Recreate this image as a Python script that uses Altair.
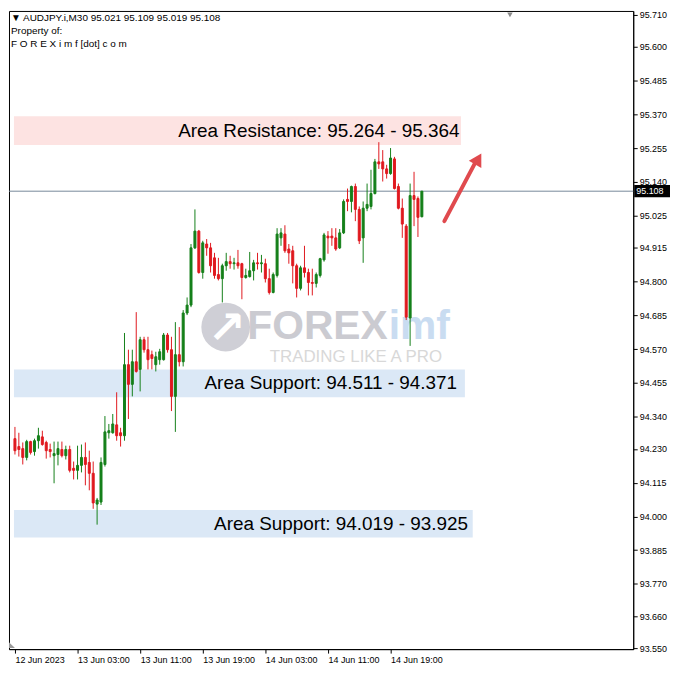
import altair as alt
import pandas as pd

# ---------------- data ----------------
bar_index = list(range(1, 106))  # 30-minute bars starting 12 Jun 2023 19:00
opens = [94.265, 94.238, 94.231, 94.201, 94.255, 94.221, 94.258, 94.271, 94.252, 94.228,
         94.207, 94.211, 94.228, 94.207, 94.228, 94.164, 94.157, 94.174, 94.201, 94.184,
         94.147, 94.042, 94.049, 94.177, 94.285, 94.285, 94.312, 94.285, 94.275, 94.517,
         94.450, 94.527, 94.501, 94.602, 94.568, 94.551, 94.517, 94.534, 94.534, 94.618,
         94.568, 94.409, 94.551, 94.527, 94.693, 94.720, 94.915, 94.972, 94.831, 94.928,
         94.915, 94.881, 94.824, 94.810, 94.854, 94.868, 94.861, 94.864, 94.861, 94.814,
         94.817, 94.837, 94.864, 94.861, 94.861, 94.810, 94.763, 94.821, 94.949, 94.962,
         94.911, 94.905, 94.854, 94.777, 94.847, 94.831, 94.797, 94.794, 94.821, 94.874,
         94.955, 94.955, 94.949, 94.915, 94.966, 95.080, 95.073, 95.124, 95.046, 94.949,
         95.050, 95.056, 95.100, 95.208, 95.208, 95.184, 95.168, 95.218, 95.124, 95.050,
         94.989, 94.676, 95.093, 95.083, 95.021]
highs = [94.305, 94.285, 94.252, 94.261, 94.258, 94.265, 94.302, 94.292, 94.258, 94.248,
         94.255, 94.255, 94.255, 94.241, 94.241, 94.187, 94.241, 94.245, 94.252, 94.224,
         94.187, 94.063, 94.201, 94.342, 94.315, 94.349, 94.423, 94.302, 94.625, 94.568,
         94.568, 94.696, 94.612, 94.612, 94.612, 94.565, 94.561, 94.571, 94.625, 94.625,
         94.612, 94.662, 94.645, 94.703, 94.746, 94.928, 95.046, 94.976, 94.939, 94.945,
         94.932, 94.898, 94.881, 94.861, 94.898, 94.888, 94.881, 94.908, 94.864, 94.844,
         94.901, 94.874, 94.898, 94.891, 94.878, 94.844, 94.831, 94.982, 94.982, 94.992,
         94.928, 94.922, 94.861, 94.854, 94.922, 94.844, 94.844, 94.831, 94.881, 94.966,
         94.972, 94.982, 94.982, 94.979, 95.080, 95.117, 95.127, 95.134, 95.056, 95.073,
         95.134, 95.181, 95.218, 95.275, 95.248, 95.198, 95.255, 95.225, 95.134, 95.083,
         94.996, 95.134, 95.174, 95.090, 95.109]
lows = [94.211, 94.204, 94.177, 94.191, 94.211, 94.207, 94.231, 94.241, 94.197, 94.201,
        94.113, 94.174, 94.201, 94.194, 94.150, 94.126, 94.126, 94.150, 94.106, 94.089,
        94.026, 93.972, 94.039, 94.170, 94.265, 94.282, 94.258, 94.238, 94.258, 94.332,
        94.409, 94.490, 94.426, 94.558, 94.501, 94.501, 94.494, 94.517, 94.531, 94.558,
        94.359, 94.288, 94.511, 94.511, 94.686, 94.713, 94.911, 94.827, 94.810, 94.888,
        94.831, 94.810, 94.804, 94.729, 94.837, 94.844, 94.841, 94.844, 94.740, 94.810,
        94.814, 94.804, 94.841, 94.831, 94.797, 94.756, 94.760, 94.814, 94.922, 94.898,
        94.861, 94.794, 94.746, 94.770, 94.814, 94.753, 94.753, 94.780, 94.814, 94.868,
        94.895, 94.922, 94.905, 94.911, 94.962, 95.040, 95.036, 95.006, 94.928, 94.864,
        95.040, 95.046, 95.097, 95.184, 95.141, 95.151, 95.164, 95.114, 95.046, 94.949,
        94.669, 94.581, 94.989, 94.952, 95.019]
closes = [94.224, 94.228, 94.201, 94.255, 94.218, 94.258, 94.275, 94.245, 94.224, 94.221,
          94.214, 94.231, 94.207, 94.228, 94.157, 94.157, 94.174, 94.201, 94.177, 94.147,
          94.046, 94.056, 94.184, 94.288, 94.292, 94.315, 94.275, 94.275, 94.517, 94.450,
          94.527, 94.494, 94.602, 94.568, 94.534, 94.538, 94.544, 94.561, 94.618, 94.568,
          94.409, 94.551, 94.527, 94.693, 94.720, 94.915, 94.972, 94.831, 94.932, 94.915,
          94.854, 94.821, 94.810, 94.854, 94.868, 94.861, 94.864, 94.854, 94.814, 94.821,
          94.837, 94.864, 94.861, 94.864, 94.810, 94.763, 94.824, 94.962, 94.966, 94.905,
          94.898, 94.854, 94.777, 94.847, 94.831, 94.797, 94.794, 94.824, 94.878, 94.959,
          94.949, 94.949, 94.911, 94.966, 95.073, 95.073, 95.124, 95.046, 94.939, 95.050,
          95.063, 95.100, 95.208, 95.201, 95.184, 95.168, 95.221, 95.117, 95.050, 94.996,
          94.679, 95.093, 95.080, 95.019, 95.108]

y_ticks = [95.710, 95.600, 95.485, 95.370, 95.255, 95.140, 95.025, 94.915, 94.800, 94.685,
           94.570, 94.455, 94.340, 94.230, 94.115, 94.000, 93.885, 93.770, 93.660, 93.550]
x_tick_bars = [1, 17, 33, 49, 65, 81, 97]
x_tick_labels = ["12 Jun 2023", "13 Jun 03:00", "13 Jun 11:00", "13 Jun 19:00",
                 "14 Jun 03:00", "14 Jun 11:00", "14 Jun 19:00"]

zone_kind = ["resistance", "support", "support"]
zone_low = [95.265, 94.406, 93.928]
zone_high = [95.363, 94.501, 94.022]
zone_start = [0.75, 0.75, 0.75]
zone_end = [115.0, 116.0, 118.0]
zone_text = ["Area Resistance: 95.264 - 95.364",
             "Area Support: 94.511 - 94.371",
             "Area Support: 94.019 - 93.925"]
zone_text_end = [114.6, 114.0, 116.8]

current_price = 95.108
symbol_header = "\u25BC AUDJPY.i,M30  95.021 95.109 95.019 95.108"
header_lines = ["Property of:", "F O R E X i m f [dot] c o m"]

arrow_bars = [110.75, 118.75]
arrow_prices = [95.006, 95.208]
arrow_head_bar = 119.4
arrow_head_price = 95.218

# ---------------- styling ----------------
GREEN = "#15801a"
RED = "#e0191f"
ZONE_FILL = {"resistance": "#fde3e2", "support": "#dbe8f6"}
FONT = "Liberation Sans"
W, H = 628, 642
XDOM = [0.75, 0.75 + W / 4.0]
YDOM = [93.548, 95.722]

label_expr = ("[" + ",".join("'" + s + "'" for s in x_tick_labels) + "][indexof(["
              + ",".join(str(v) for v in x_tick_bars) + "], datum.value)]")

x_axis = alt.Axis(values=x_tick_bars, labelExpr=label_expr, title=None, orient="bottom",
                  labelAlign="left", labelPadding=2, tickSize=4, grid=False,
                  labelFlush=False, labelOverlap=False, labelBound=False)
y_axis = alt.Axis(values=y_ticks, format=".3f", title=None, orient="right",
                  labelAlign="left", labelPadding=2, tickSize=4, grid=False,
                  labelOverlap=False, labelFlush=False)
x_scale = alt.Scale(domain=XDOM, nice=False, zero=False)
y_scale = alt.Scale(domain=YDOM, nice=False, zero=False)


def X(f):
    return alt.X(f, type="quantitative", scale=x_scale, axis=x_axis)


def Y(f):
    return alt.Y(f, type="quantitative", scale=y_scale, axis=y_axis)


candles = pd.DataFrame({"bar": bar_index, "open": opens, "high": highs,
                        "low": lows, "close": closes})
candles["col"] = [GREEN if c >= o else RED for o, c in zip(opens, closes)]

zones = pd.DataFrame({"x0": zone_start, "x1": zone_end, "lo": zone_low, "hi": zone_high,
                      "kind": zone_kind, "label": zone_text, "tx": zone_text_end})
zones["fillc"] = [ZONE_FILL[k] for k in zone_kind]
zones["ty"] = [(a + b) / 2 for a, b in zip(zone_low, zone_high)]

price_df = pd.DataFrame({"p": [current_price], "lab": [f"{current_price:.3f}"]})
arrow_df = pd.DataFrame({"x0": [arrow_bars[0]], "x1": [arrow_bars[1]],
                         "y0": [arrow_prices[0]], "y1": [arrow_prices[1]],
                         "hx": [arrow_head_bar], "hy": [arrow_head_price]})


def one(text):
    return pd.DataFrame({"t": [text]})


zone_rects = alt.Chart(zones).mark_rect().encode(
    x=X("x0"), x2=alt.X2("x1"), y=Y("lo"), y2=alt.Y2("hi"),
    fill=alt.Fill("fillc:N", scale=None))

# watermark
WM_Y = 318
wm_circle = alt.Chart(one("o")).mark_point(shape="circle", filled=True, size=2400,
                                           color="#cfcfd6", opacity=1).encode(
    x=alt.value(218), y=alt.value(WM_Y))
wm_arrow = alt.Chart(one("\u2197")).mark_text(font="DejaVu Sans", fontSize=46, fontWeight="bold",
                                             color="white", align="center", baseline="middle").encode(
    x=alt.value(219), y=alt.value(WM_Y + 2), text="t:N")
wm_forex = alt.Chart(one("FOREX")).mark_text(font=FONT, fontSize=41, fontWeight="bold",
                                            color="#cbcbd1", align="right", baseline="middle").encode(
    x=alt.value(381), y=alt.value(WM_Y), text="t:N")
wm_imf = alt.Chart(one("imf")).mark_text(font=FONT, fontSize=41, fontWeight="bold",
                                        color="#c9dcf1", align="left", baseline="middle").encode(
    x=alt.value(382), y=alt.value(WM_Y), text="t:N")
wm_tag = alt.Chart(one("TRADING LIKE A PRO")).mark_text(font=FONT, fontSize=17, color="#d8d8d8",
                                                       align="center", baseline="middle").encode(
    x=alt.value(349), y=alt.value(WM_Y + 30), text="t:N")

price_line = alt.Chart(price_df).mark_rule(color="#77889a", strokeWidth=1).encode(y=Y("p"))

wicks = alt.Chart(candles).mark_rule(strokeWidth=1).encode(
    x=X("bar"), y=Y("low"), y2=alt.Y2("high"), stroke=alt.Stroke("col:N", scale=None))
bodies = alt.Chart(candles).mark_bar(size=2, strokeWidth=1).encode(
    x=X("bar"), y=Y("open"), y2=alt.Y2("close"),
    fill=alt.Fill("col:N", scale=None), stroke=alt.Stroke("col:N", scale=None))

zone_labels = alt.Chart(zones).mark_text(font=FONT, fontSize=19, color="black",
                                         align="right", baseline="middle").encode(
    x=X("tx"), y=Y("ty"), text="label:N")

arrow_line = alt.Chart(arrow_df).mark_rule(color="#e04a4e", strokeWidth=4, strokeCap="round").encode(
    x=X("x0"), x2=alt.X2("x1"), y=Y("y0"), y2=alt.Y2("y1"))
arrow_head = alt.Chart(arrow_df).mark_point(shape="triangle-up", filled=True, size=210,
                                            angle=30, color="#e04a4e", opacity=1).encode(
    x=X("hx"), y=Y("hy"))

hdr1 = alt.Chart(one(symbol_header)).mark_text(font=FONT, fontSize=10, color="black",
                                              align="left", baseline="middle").encode(
    x=alt.value(2), y=alt.value(7), text="t:N")
hdr2 = alt.Chart(one(header_lines[0])).mark_text(font=FONT, fontSize=10, color="black",
                                                align="left", baseline="middle").encode(
    x=alt.value(2), y=alt.value(20), text="t:N")
hdr3 = alt.Chart(one(header_lines[1])).mark_text(font=FONT, fontSize=10, color="black",
                                                align="left", baseline="middle").encode(
    x=alt.value(2), y=alt.value(33), text="t:N")

shift_mark = alt.Chart(one("s")).mark_point(shape="triangle-down", filled=True, size=30,
                                            color="#8a8a8a", opacity=1).encode(
    x=alt.value(504), y=alt.value(4))
corner_mark = alt.Chart(one("c")).mark_point(shape="M-1,-1L1,1L-1,1Z", filled=True, size=36,
                                             color="#9a9a9a", opacity=1).encode(
    x=alt.value(3), y=alt.value(H - 4))

tag_box = alt.Chart(price_df).mark_point(shape="M-1,-0.34L1,-0.34L1,0.34L-1,0.34Z", filled=True,
                                         size=1296, color="black", opacity=1).encode(
    x=alt.value(W + 19), y=Y("p"))
tag_text = alt.Chart(price_df).mark_text(font=FONT, fontSize=9, color="white",
                                         align="left", baseline="middle").encode(
    x=alt.value(W + 3), y=Y("p"), text="lab:N")

chart = alt.layer(
    zone_rects, wm_circle, wm_arrow, wm_forex, wm_imf, wm_tag, price_line,
    wicks, bodies, zone_labels, arrow_line, arrow_head, hdr1, hdr2, hdr3,
    shift_mark, corner_mark, tag_box, tag_text
).properties(
    width=W, height=H, padding={"left": 0, "top": 0, "right": 0, "bottom": 0},
    background="white"
).configure_view(
    stroke="black", strokeWidth=1
).configure_axis(
    domainColor="black", tickColor="black", labelColor="black", labelFont=FONT,
    labelFontSize=9, domainWidth=1, tickWidth=1
)

chart.save("out.html", embed_options={"renderer": "svg", "actions": False})
